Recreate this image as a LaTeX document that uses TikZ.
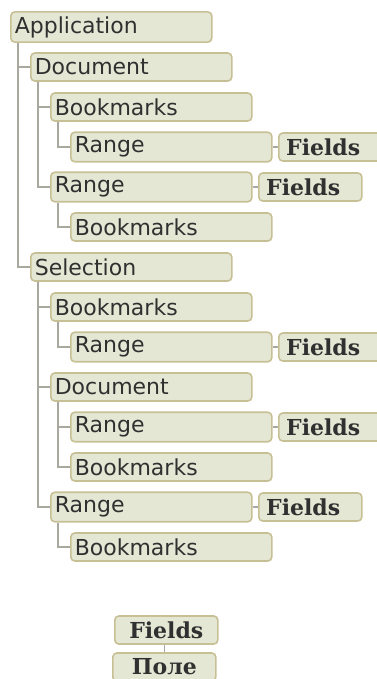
\documentclass[tikz,border=0pt]{standalone}
\usepackage{fontspec}
\setmainfont{DejaVu Sans}
\newfontfamily\fieldfont{DejaVu Serif}

\definecolor{boxfill}{HTML}{E5E7D5}
\definecolor{boxline}{HTML}{C8C095}
\definecolor{treeline}{HTML}{A8A89E}
\definecolor{boxtext}{HTML}{303030}

\tikzset{ every node/.style={draw=boxline, fill=boxfill, line width=1.2pt, rounded corners=3pt, text=boxtext, minimum height=21pt, anchor=west, font=\fontsize{16.5}{18}\selectfont} }
\tikzset{ item/.style={text width=144.75pt, inner xsep=3pt, align=left},
          field/.style={minimum width=77.25pt, inner xsep=2pt, align=center, font=\fontsize{16.5}{18}\selectfont\fieldfont\bfseries},
          sidefield/.style={field, text width=66.25pt, inner xsep=5.5pt, align=left} }

\begin{document}
\begin{tikzpicture}[x=0.75pt, y=-0.75pt, tree/.style={draw=treeline, line width=1.2pt}]
        \useasboundingbox (0,0) rectangle (376,679);

        \node[item] (app) at (10,27) {Application};
        \node[item] (doc) at (30,67) {Document};
        \node[item] (bm1) at (50,107) {Bookmarks};
        \node[item] (rg1) at (70,147) {Range};
        \node[sidefield] (fl1) at (278,147) {Fields};
        \node[item] (rg2) at (50,187) {Range};
        \node[sidefield] (fl2) at (258,187) {Fields};
        \node[item] (bm2) at (70,227) {Bookmarks};
        \node[item] (sel) at (30,267) {Selection};
        \node[item] (bm3) at (50,307) {Bookmarks};
        \node[item] (rg3) at (70,347) {Range};
        \node[sidefield] (fl3) at (278,347) {Fields};
        \node[item] (doc2) at (50,387) {Document};
        \node[item] (rg4) at (70,427) {Range};
        \node[sidefield] (fl4) at (278,427) {Fields};
        \node[item] (bm4) at (70,467) {Bookmarks};
        \node[item] (rg5) at (50,507) {Range};
        \node[sidefield] (fl5) at (258,507) {Fields};
        \node[item] (bm5) at (70,547) {Bookmarks};

        \node[field] (fld) at (114,630) {Fields};
        \node[field] (pole) at (112,667) {Поле};

        % tree lines
        \draw[tree] (app.south west) ++(8,0) |- (doc.west);
        \draw[tree] (app.south west) ++(8,0) |- (sel.west);
        \draw[tree] (doc.south west) ++(8,0) |- (bm1.west);
        \draw[tree] (doc.south west) ++(8,0) |- (rg2.west);
        \draw[tree] (bm1.south west) ++(8,0) |- (rg1.west);
        \draw[tree] (rg2.south west) ++(8,0) |- (bm2.west);
        \draw[tree] (sel.south west) ++(8,0) |- (bm3.west);
        \draw[tree] (sel.south west) ++(8,0) |- (doc2.west);
        \draw[tree] (sel.south west) ++(8,0) |- (rg5.west);
        \draw[tree] (bm3.south west) ++(8,0) |- (rg3.west);
        \draw[tree] (doc2.south west) ++(8,0) |- (rg4.west);
        \draw[tree] (doc2.south west) ++(8,0) |- (bm4.west);
        \draw[tree] (rg5.south west) ++(8,0) |- (bm5.west);

        % fields
        \draw[tree] (rg1.east) -- (fl1.west);
        \draw[tree] (rg2.east) -- (fl2.west);
        \draw[tree] (rg3.east) -- (fl3.west);
        \draw[tree] (rg4.east) -- (fl4.west);
        \draw[tree] (rg5.east) -- (fl5.west);
        \draw[tree] (pole.north) -- (pole.north |- fld.south);
\end{tikzpicture}
\end{document}
